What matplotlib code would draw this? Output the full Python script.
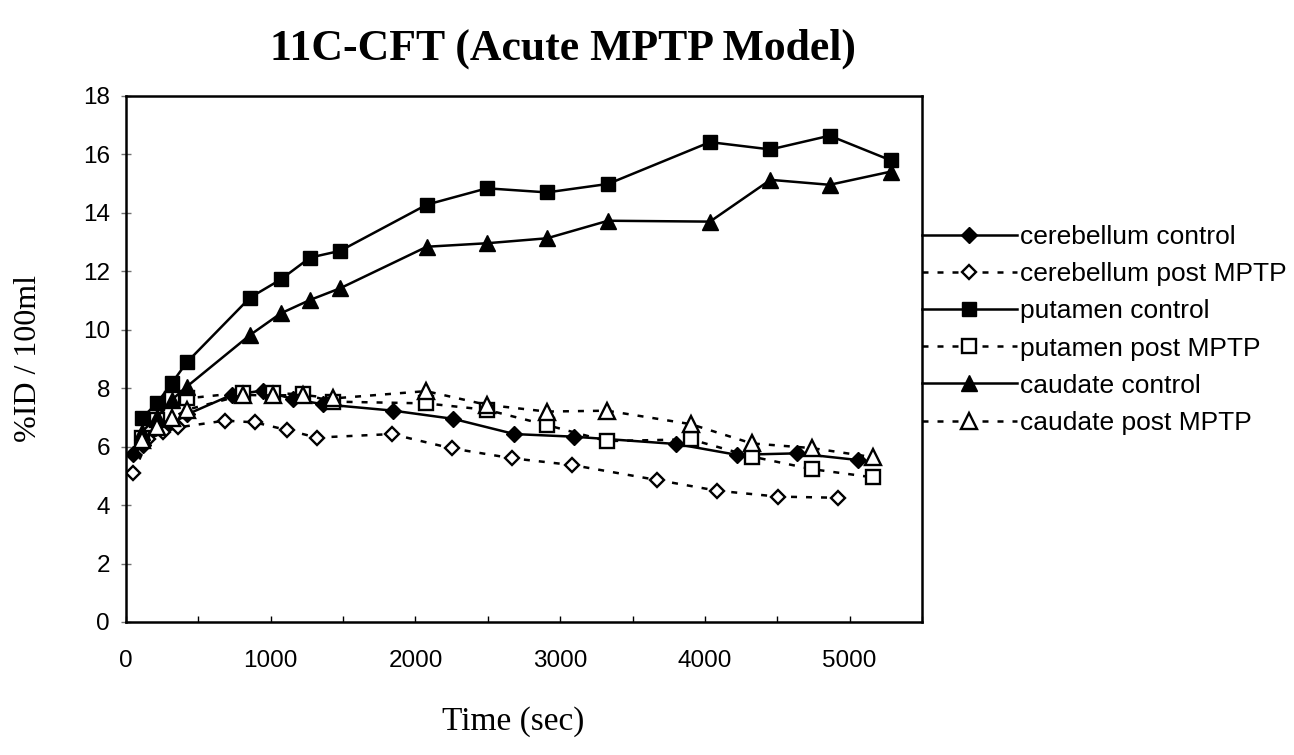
import matplotlib
matplotlib.use('Agg')
import matplotlib.pyplot as plt
from matplotlib.ticker import MultipleLocator

# time (sec) and %ID/100ml for each region
cereb_ctrl_t = [51, 120, 258, 420, 730, 949, 1157, 1364, 1848, 2262, 2684, 3096, 3801, 4220, 4635, 5061]
cereb_ctrl = [5.75, 6.05, 6.6, 7.1, 7.77, 7.92, 7.62, 7.45, 7.23, 6.95, 6.43, 6.34, 6.09, 5.72, 5.77, 5.54]

cereb_post_t = [51, 154, 258, 362, 684, 891, 1110, 1318, 1836, 2251, 2670, 3084, 3667, 4087, 4504, 4918]
cereb_post = [5.09, 6.25, 6.5, 6.66, 6.89, 6.83, 6.57, 6.31, 6.43, 5.94, 5.6, 5.37, 4.86, 4.49, 4.29, 4.25]

ctrl_t = [108, 212, 316, 419, 857, 1069, 1272, 1480, 2078, 2494, 2909, 3331, 4035, 4453, 4862, 5283]
put_ctrl = [6.97, 7.48, 8.17, 8.88, 11.1, 11.72, 12.47, 12.7, 14.28, 14.84, 14.7, 14.99, 16.42, 16.17, 16.64, 15.8]
caud_ctrl = [6.5, 7.0, 7.6, 8.05, 9.82, 10.56, 11.02, 11.42, 12.84, 12.96, 13.13, 13.73, 13.7, 15.13, 14.96, 15.41]

post_t = [108, 212, 316, 419, 811, 1018, 1225, 1433, 2073, 2493, 2907, 3322, 3902, 4324, 4739, 5160]
put_post = [6.3, 6.91, 7.62, 7.65, 7.85, 7.83, 7.79, 7.54, 7.48, 7.26, 6.74, 6.19, 6.25, 5.66, 5.23, 4.95]
caud_post = [6.23, 6.68, 6.97, 7.26, 7.77, 7.75, 7.77, 7.65, 7.9, 7.43, 7.2, 7.23, 6.77, 6.11, 5.95, 5.64]

fig = plt.figure(figsize=(12.94, 7.55), dpi=100)
ax = fig.add_axes([0.0974, 0.1762, 0.6151, 0.6967])

solid = dict(color='black', lw=1.8, linestyle='-')
dashed = dict(color='black', lw=1.8, linestyle=(0, (2.4, 3.6)))

ax.plot(cereb_ctrl_t, cereb_ctrl, marker='D', ms=7.8, mfc='black', mec='black',
        label='cerebellum control', **solid)
ax.plot(cereb_post_t, cereb_post, marker='D', ms=7.5, mfc='white', mec='black', mew=1.7,
        label='cerebellum post MPTP', **dashed)
ax.plot(ctrl_t, put_ctrl, marker='s', ms=10, mfc='black', mec='black',
        label='putamen control', **solid)
ax.plot(post_t, put_post, marker='s', ms=10, mfc='white', mec='black', mew=1.7,
        label='putamen post MPTP', **dashed)
ax.plot(ctrl_t, caud_ctrl, marker='^', ms=11, mfc='black', mec='black',
        label='caudate control', **solid)
ax.plot(post_t, caud_post, marker='^', ms=11, mfc='white', mec='black', mew=1.7,
        label='caudate post MPTP', **dashed)

ax.set_xlim(0, 5500)
ax.set_ylim(0, 18)
ax.xaxis.set_major_locator(MultipleLocator(1000))
ax.xaxis.set_minor_locator(MultipleLocator(500))
ax.yaxis.set_major_locator(MultipleLocator(2))

for s in ax.spines.values():
    s.set_linewidth(1.8)
    s.set_color('black')

ax.tick_params(axis='x', which='both', direction='in', length=4, width=1, top=False,
               labelsize=17.5, pad=20)
ax.tick_params(axis='y', direction='inout', length=7, width=1, color='0.45',
               labelsize=17.5, pad=8)
for lab in ax.get_xticklabels() + ax.get_yticklabels():
    lab.set_fontfamily('Liberation Sans')

ax.set_xlabel('Time (sec)', fontsize=24, family='Liberation Serif')
ax.set_ylabel('%ID / 100ml', fontsize=23, family='Liberation Serif', labelpad=29)
ax.xaxis.set_label_coords(0.487, -0.16)

fig.text(0.435, 0.935, '11C-CFT (Acute MPTP Model)', ha='center', va='center',
         fontsize=31.5, fontweight='bold', family='Liberation Serif')

leg = ax.legend(loc='center left', bbox_to_anchor=(0.7125, 0.563),
                bbox_transform=fig.transFigure, frameon=False,
                prop={'family': 'Liberation Sans', 'size': 19},
                handlelength=3.6, handletextpad=0.1, labelspacing=0.5,
                borderpad=0, borderaxespad=0)

plt.savefig('out.png', dpi=100)
